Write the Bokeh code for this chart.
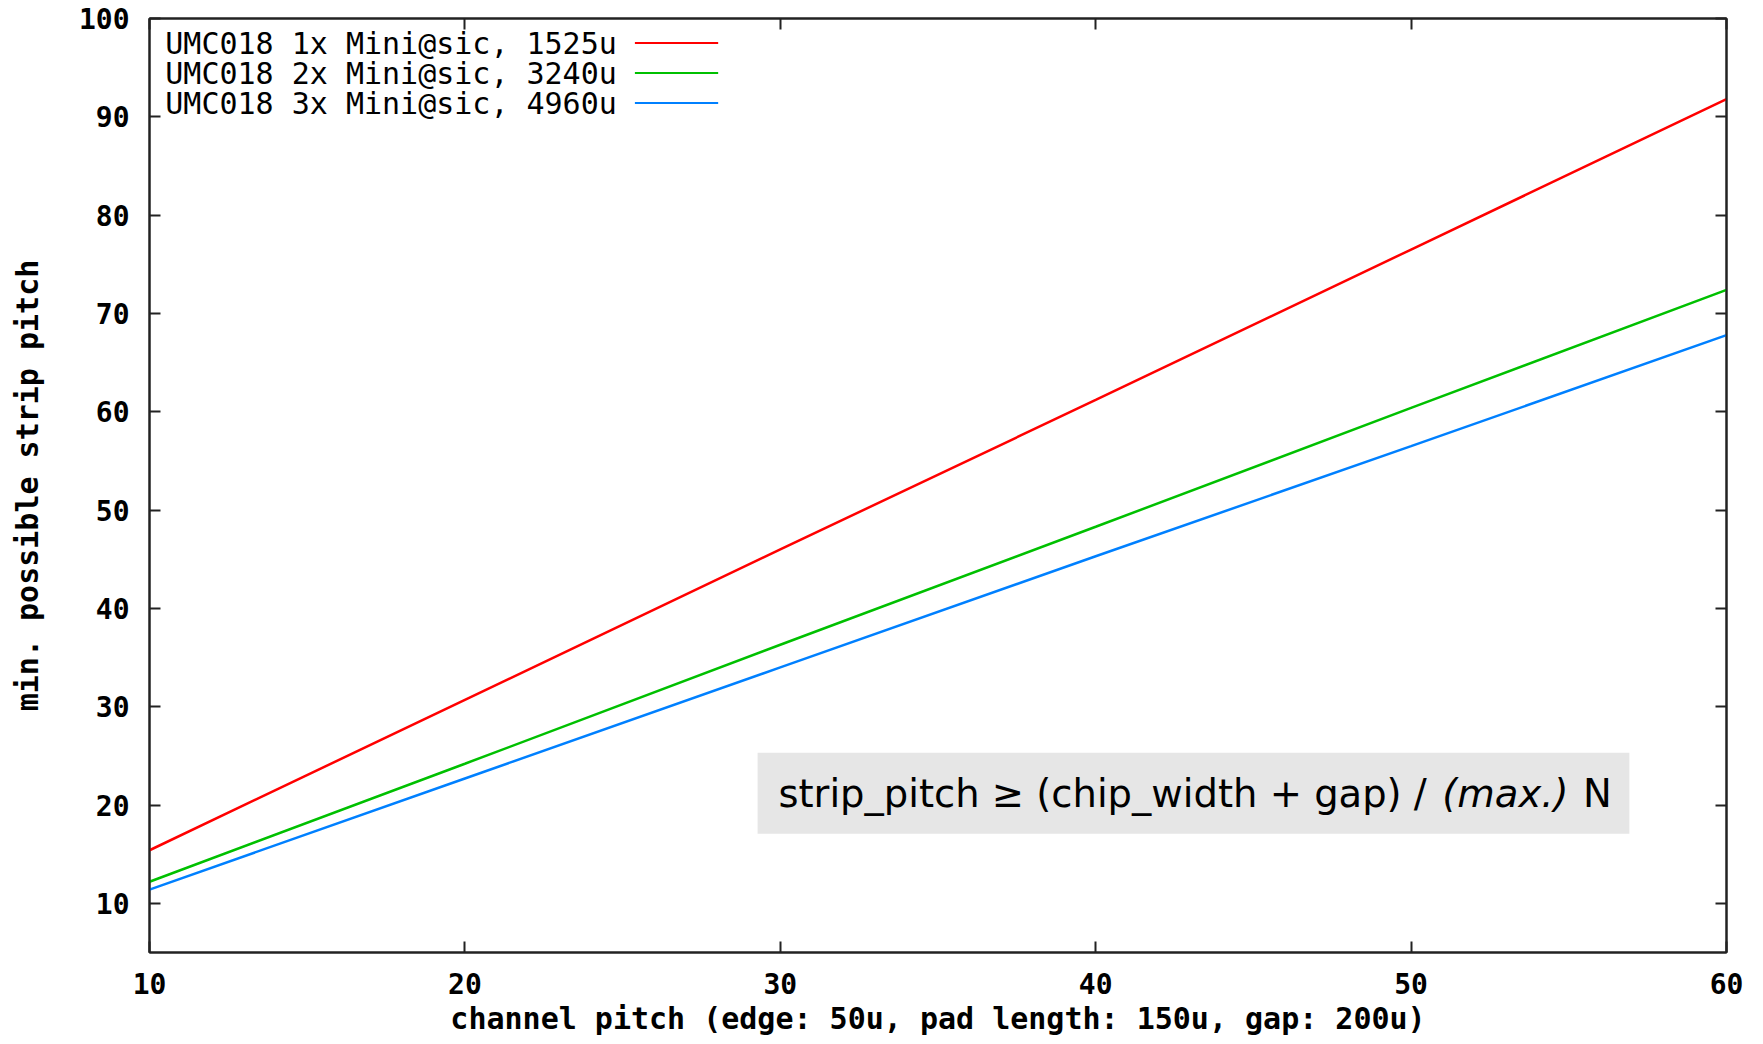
from bokeh.plotting import figure
from bokeh.models import Range1d, FixedTicker, LinearAxis, Label, BoxAnnotation
from bokeh.embed import file_html
from bokeh.resources import INLINE

# ---- data ----
channel_pitch = [10, 20, 30, 40, 50, 60]
pitch_1x = [15.4, 30.7, 46.0, 61.2, 76.5, 91.8]
pitch_2x = [12.2, 24.2, 36.3, 48.3, 60.4, 72.4]
pitch_3x = [11.4, 22.7, 34.0, 45.3, 56.5, 67.8]
series_names = ["UMC018 1x Mini@sic, 1525u",
                "UMC018 2x Mini@sic, 3240u",
                "UMC018 3x Mini@sic, 4960u"]
series_colors = ["#ff0000", "#00c000", "#0080ff"]
x_ticks = [10, 20, 30, 40, 50, 60]
y_ticks = [10, 20, 30, 40, 50, 60, 70, 80, 90, 100]
x_title = "channel pitch (edge: 50u, pad length: 150u, gap: 200u)"
y_title = "min. possible strip pitch"

MONO = "DejaVu Sans Mono"

p = figure(width=1763, height=1044, output_backend="svg", toolbar_location=None,
           x_range=Range1d(10, 60), y_range=Range1d(5, 100),
           min_border_left=149, min_border_right=37, min_border_top=18, min_border_bottom=92,
           background_fill_color="white", border_fill_color="white")
p.grid.visible = False
p.outline_line_color = "#222222"
p.outline_line_width = 2

for ax, ticks in ((p.xaxis[0], x_ticks), (p.yaxis[0], y_ticks)):
    ax.ticker = FixedTicker(ticks=ticks)
    ax.major_tick_in = 11
    ax.major_tick_out = 0
    ax.minor_tick_line_color = None
    ax.major_tick_line_color = "#222222"
    ax.major_tick_line_width = 2
    ax.axis_line_color = "#222222"
    ax.axis_line_width = 2
    ax.major_label_text_font = MONO
    ax.major_label_text_font_style = "bold"
    ax.major_label_text_font_size = "28px"
    ax.major_label_text_color = "black"
    ax.axis_label_text_font = MONO
    ax.axis_label_text_font_style = "bold"
    ax.axis_label_text_font_size = "30px"
    ax.axis_label_text_color = "black"

p.xaxis.axis_label = x_title
p.yaxis.axis_label = y_title
p.xaxis.major_label_standoff = 20
p.yaxis.major_label_standoff = 20
p.xaxis.axis_label_standoff = 4
p.yaxis.axis_label_standoff = 31

# mirrored inward ticks on top and right (no labels)
for loc, ticks in (("above", x_ticks), ("right", y_ticks)):
    ax = LinearAxis(ticker=FixedTicker(ticks=ticks), major_tick_in=11, major_tick_out=0,
                    minor_tick_line_color=None, major_tick_line_color="#222222",
                    major_tick_line_width=2, axis_line_color="#222222", axis_line_width=2,
                    major_label_text_color=None, major_label_text_font_size="8px",
                    major_label_standoff=0)
    p.add_layout(ax, loc)

for ys, col in zip((pitch_1x, pitch_2x, pitch_3x), series_colors):
    p.line(channel_pitch, ys, line_color=col, line_width=2.5)

# manual legend (text left, sample line right)
legend_rows_y = [97.5, 94.45, 91.4]
for name, col, yy in zip(series_names, series_colors, legend_rows_y):
    p.add_layout(Label(x=10.5, y=yy, text=name, text_font=MONO, text_font_size="30px",
                       text_color="black", text_baseline="middle", text_align="left"))
    p.add_layout(BoxAnnotation(left=25.39, right=28.03, bottom=yy - 0.1, top=yy + 0.1,
                               fill_color=col, fill_alpha=1.0, line_color=None))

# formula box
p.add_layout(BoxAnnotation(left=29.28, right=56.92, bottom=17.08, top=25.32,
                           fill_color="#e6e6e6", fill_alpha=1.0, line_color=None,
                           level="underlay"))
SANS = "DejaVu Sans"
p.add_layout(Label(x=29.94, y=21.2, text="strip_pitch \u2265 (chip_width + gap) /",
                   text_font=SANS, text_font_size="38.5px", text_color="black",
                   text_baseline="middle", text_align="left"))
p.add_layout(Label(x=50.99, y=21.2, text="(max.)", text_font=SANS, text_font_size="38.5px",
                   text_font_style="italic", text_color="black",
                   text_baseline="middle", text_align="left"))
p.add_layout(Label(x=55.45, y=21.2, text="N", text_font=SANS, text_font_size="38.5px",
                   text_color="black", text_baseline="middle", text_align="left"))

open("out.html", "w").write(file_html(p, INLINE))
